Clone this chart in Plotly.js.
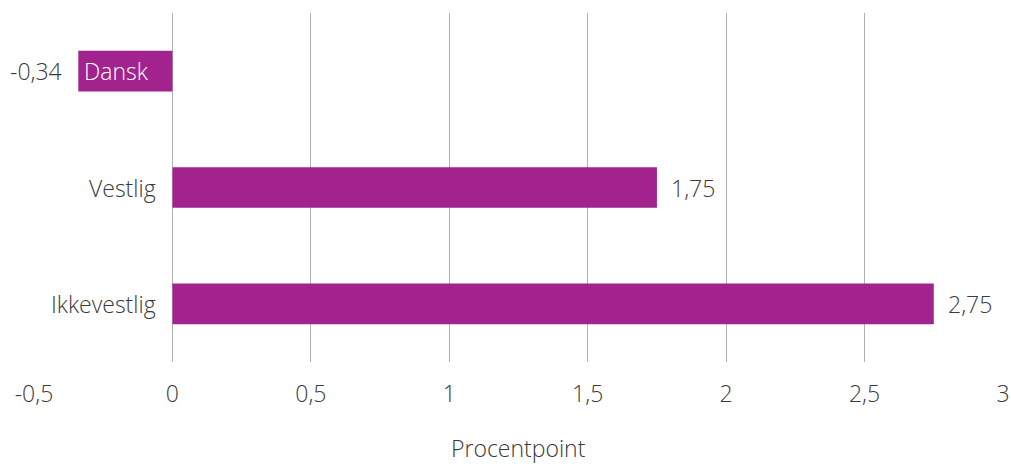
<!DOCTYPE html>
<html>
<head>
<meta charset="utf-8">
<script src="https://cdn.plot.ly/plotly-3.0.1.min.js"></script>
<style>html,body{margin:0;padding:0;background:#fff;}#chart{width:1011px;height:466px;}</style>
</head>
<body>
<div id="chart"></div>
<script>
const categories = ["Dansk", "Vestlig", "Ikkevestlig"];
const values = [-0.34, 1.75, 2.75];
const tickValues = [-0.5, 0, 0.5, 1, 1.5, 2, 2.5, 3];
const tickLabels = ["-0,5", "0", "0,5", "1", "1,5", "2", "2,5", "3"];
const axisTitle = "Procentpoint";

const barColor = "#A2238D";
const textColor = "#3a3a3a";
const fontFamily = "'Open Sans', 'Noto Sans', sans-serif";
const fw = 300;
const fs = 23;

const fmt = v => v.toFixed(2).replace(".", ",");

const annotations = [];
categories.forEach((c, i) => {
  const neg = values[i] < 0;
  annotations.push({
    x: 0, y: c, xref: "x", yref: "y",
    text: c, showarrow: false,
    xanchor: "right", xshift: neg ? -21 : -14,
    font: {family: fontFamily, size: fs, weight: fw, color: neg ? "#ffffff" : textColor}
  });
  annotations.push({
    x: values[i], y: c, xref: "x", yref: "y",
    text: fmt(values[i]), showarrow: false,
    xanchor: neg ? "right" : "left", xshift: neg ? -14 : 12,
    font: {family: fontFamily, size: fs, weight: fw, color: textColor}
  });
});
// axis title drawn as an annotation for precise vertical placement
annotations.push({
  x: 0.5, y: 0, xref: "paper", yref: "paper",
  text: axisTitle, showarrow: false,
  xanchor: "center", yanchor: "middle", yshift: -86,
  font: {family: fontFamily, size: fs, weight: fw, color: textColor}
});

const data = [{
  type: "bar",
  orientation: "h",
  y: categories,
  x: values,
  width: 0.35,
  marker: {color: barColor},
  hoverinfo: "none"
}];

const layout = {
  width: 1011, height: 466,
  margin: {l: 34, r: 8, t: 13, b: 104},
  paper_bgcolor: "#ffffff", plot_bgcolor: "#ffffff",
  showlegend: false,
  font: {family: fontFamily, size: fs, weight: fw, color: textColor},
  xaxis: {
    range: [-0.5, 3],
    tickvals: tickValues, ticktext: tickLabels,
    showgrid: true, gridcolor: "#b0b0b0", gridwidth: 1,
    zeroline: false, showline: false,
    ticks: "outside", ticklen: 11, tickcolor: "rgba(0,0,0,0)",
    tickfont: {family: fontFamily, size: fs, weight: fw, color: textColor},
    fixedrange: true
  },
  yaxis: {
    type: "category",
    categoryorder: "array", categoryarray: categories,
    autorange: false, range: [2.5, -0.5],
    showticklabels: false, showgrid: false, zeroline: false, showline: false,
    fixedrange: true
  },
  annotations: annotations
};

Plotly.newPlot("chart", data, layout, {displayModeBar: false, staticPlot: true});
</script>
</body>
</html>
